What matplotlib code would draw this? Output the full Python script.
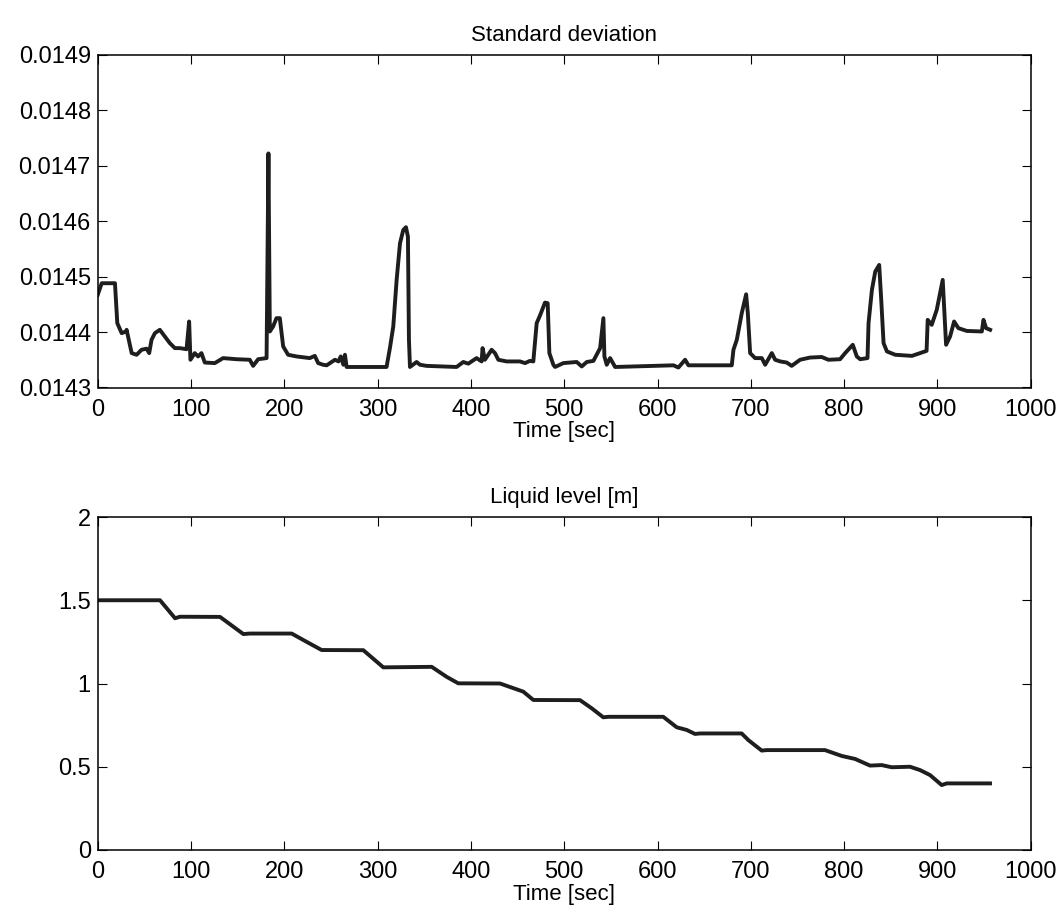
import matplotlib
matplotlib.use("Agg")
import matplotlib.pyplot as plt

plt.rcParams['font.family'] = ['Liberation Sans', 'DejaVu Sans']

# Standard deviation series (time [sec], value) -- rows of 10, aligned
sd_time = [0, 4.3, 18.5, 21, 25.7, 30.4, 31, 36.4, 41.7, 47,
           52.4, 55.2, 57.7, 61.3, 66.6, 72, 77.3, 82.7, 88, 95.2,
           98, 99.4, 104, 107.6, 111.2, 114.8, 125.5, 134.4, 148.7, 163,
           166.6, 172, 181, 183, 184.5, 188, 191.6, 195.2, 198.8, 204.1,
           213, 227.3, 232.7, 236.3, 241.6, 245.4, 254.3, 258, 260.5, 263.3,
           265, 266.8, 309.6, 313.2, 316.8, 320.4, 324, 327.5, 330.4, 332.5,
           333.6, 334.7, 341.8, 345.4, 352.5, 384.7, 391.8, 397.2, 406.1, 411.5,
           412.5, 415, 422.2, 425.8, 429.4, 438.3, 452.6, 458, 463.3, 466.9,
           470.5, 474.1, 479.4, 482.3, 484.1, 488.4, 490.2, 499.1, 513.4, 518.8,
           524.2, 531.3, 538.5, 542, 543.1, 545.6, 549.2, 554.6, 617.1, 622.4,
           629.6, 633.2, 679.6, 681.4, 685, 690.3, 695, 696.8, 699.3, 704.6,
           711.8, 715.4, 722.5, 726.1, 731.5, 738.5, 743.8, 752.8, 763.5, 776,
           783.2, 795.7, 801.1, 809.3, 813.6, 817.2, 825.1, 826.2, 829.8, 833.4,
           837.6, 839.8, 842.3, 845.9, 854.8, 872.7, 888.4, 889.6, 893.9, 899.3,
           905.7, 907.2, 909.3, 913.6, 917.9, 922.5, 931.5, 947.6, 949.4, 952.2,
           956.5]
sd_value = [0.014467, 0.014488, 0.014488, 0.014416, 0.014398, 0.014401, 0.014404, 0.014362, 0.014359, 0.014368,
            0.014370, 0.014362, 0.014386, 0.014398, 0.014404, 0.014392, 0.014380, 0.014371, 0.014371, 0.014369,
            0.014419, 0.014350, 0.014362, 0.014356, 0.014362, 0.014345, 0.014344, 0.014353, 0.014351, 0.014350,
            0.014339, 0.014351, 0.014353, 0.014722, 0.014401, 0.014410, 0.014425, 0.014425, 0.014374, 0.014359,
            0.014356, 0.014353, 0.014357, 0.014344, 0.014341, 0.014340, 0.014350, 0.014347, 0.014356, 0.014341,
            0.014359, 0.014337, 0.014337, 0.014371, 0.014410, 0.014494, 0.014560, 0.014584, 0.014589, 0.014572,
            0.014386, 0.014337, 0.014346, 0.014341, 0.014339, 0.014337, 0.014346, 0.014343, 0.014353, 0.014347,
            0.014371, 0.014350, 0.014368, 0.014362, 0.014350, 0.014347, 0.014347, 0.014344, 0.014348, 0.014347,
            0.014416, 0.014430, 0.014453, 0.014452, 0.014362, 0.014341, 0.014337, 0.014344, 0.014346, 0.014338,
            0.014346, 0.014348, 0.014371, 0.014425, 0.014356, 0.014341, 0.014353, 0.014337, 0.014340, 0.014336,
            0.014350, 0.014340, 0.014340, 0.014368, 0.014386, 0.014434, 0.014468, 0.014434, 0.014362, 0.014353,
            0.014353, 0.014341, 0.014362, 0.014350, 0.014347, 0.014345, 0.014339, 0.014350, 0.014354, 0.014355,
            0.014350, 0.014351, 0.014362, 0.014377, 0.014356, 0.014351, 0.014353, 0.014416, 0.014476, 0.014509,
            0.014521, 0.014458, 0.014380, 0.014365, 0.014359, 0.014357, 0.014366, 0.014422, 0.014413, 0.014440,
            0.014494, 0.014446, 0.014377, 0.014392, 0.014419, 0.014407, 0.014402, 0.014401, 0.014422, 0.014407,
            0.014404]

# Liquid level series (time [sec], level [m])
lvl_time = [0, 66.8, 82.9, 88.2, 131.1, 156.1, 163.2, 207.9, 224, 240,
            284.7, 306.1, 358, 374, 386.5, 431.2, 456.2, 466.9, 517, 529.5,
            541.9, 547.3, 606.2, 620.6, 631.3, 640.2, 645.5, 690.2, 697.4, 711.7,
            717, 779.5, 797.4, 811.7, 827.8, 840.3, 851, 870.7, 881.4, 892.1,
            904.6, 910, 956.4]
lvl_value = [1.5, 1.5, 1.392, 1.401, 1.4, 1.297, 1.3, 1.3, 1.25, 1.201,
             1.2, 1.097, 1.1, 1.04, 1.001, 1.0, 0.951, 0.901, 0.9, 0.851,
             0.797, 0.8, 0.8, 0.737, 0.721, 0.697, 0.7, 0.7, 0.66, 0.597,
             0.6, 0.6, 0.565, 0.547, 0.507, 0.51, 0.497, 0.5, 0.48, 0.45,
             0.39, 0.4, 0.4]

sd_yticks = [0.0143, 0.0144, 0.0145, 0.0146, 0.0147, 0.0148, 0.0149]
sd_yticklabels = ['0.0143', '0.0144', '0.0145', '0.0146', '0.0147', '0.0148', '0.0149']
lvl_yticks = [0, 0.5, 1, 1.5, 2]
lvl_yticklabels = ['0', '0.5', '1', '1.5', '2']
xticks = [0, 100, 200, 300, 400, 500, 600, 700, 800, 900, 1000]

W, H = 1061, 916
fig = plt.figure(figsize=(W / 100, H / 100), dpi=100)

L = 97.7 / W
Wd = 933.0 / W
ax1 = fig.add_axes([L, 1 - 387.5 / H, Wd, 332.8 / H])
ax2 = fig.add_axes([L, 1 - 850.0 / H, Wd, 333.0 / H])

fs = 16
tfs = 17
line_color = '#1e1e1e'

ax1.plot(sd_time, sd_value, color=line_color, lw=2.8, solid_joinstyle='round')
ax1.set_xlim(0, 1000)
ax1.set_ylim(0.0143, 0.0149)
ax1.set_yticks(sd_yticks)
ax1.set_yticklabels(sd_yticklabels)
ax1.set_title('Standard deviation', fontsize=fs, pad=10)

ax2.plot(lvl_time, lvl_value, color=line_color, lw=2.8, solid_joinstyle='round')
ax2.set_xlim(0, 1000)
ax2.set_ylim(0, 2)
ax2.set_yticks(lvl_yticks)
ax2.set_yticklabels(lvl_yticklabels)
ax2.set_title('Liquid level [m]', fontsize=fs, pad=10)

for ax in (ax1, ax2):
    ax.set_xticks(xticks)
    ax.set_xlabel('Time [sec]', fontsize=fs, labelpad=0.5)
    ax.tick_params(direction='in', length=6.5, width=0.8, labelsize=tfs,
                   top=True, right=True)
    ax.tick_params(axis='x', pad=8)
    ax.tick_params(axis='y', pad=5)
    for s in ax.spines.values():
        s.set_linewidth(1.1)

fig.savefig('out.png', dpi=100)
